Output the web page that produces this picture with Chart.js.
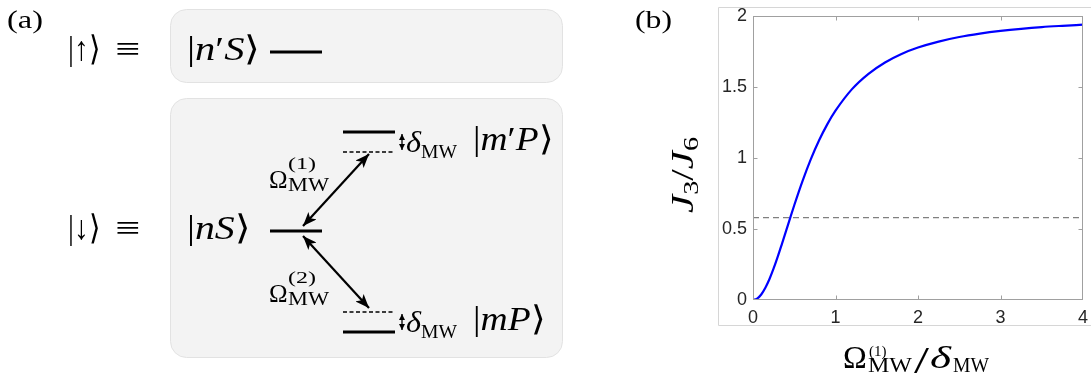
<!DOCTYPE html>
<html>
<head>
<meta charset="utf-8">
<script src="https://cdn.jsdelivr.net/npm/chart.js@4.4.1/dist/chart.umd.min.js"></script>
<style>
  html, body { margin:0; padding:0; background:#fff; width:1091px; height:377px; overflow:hidden; }
  #wrap { position:relative; width:1091px; height:377px; }
  #chartCanvas { position:absolute; left:700px; top:0; }
  #overlay { position:absolute; left:0; top:0; pointer-events:none; }
  .br { font-family:'DejaVu Sans','Liberation Serif',serif; font-weight:200; }
</style>
</head>
<body>
<div id="wrap">
<canvas id="chartCanvas" width="391" height="377"></canvas>
<svg id="overlay" width="1091" height="377" xmlns="http://www.w3.org/2000/svg"
     font-family="'Liberation Serif','DejaVu Serif',serif" fill="#000">
  <defs>
    <marker id="ah" viewBox="0 0 14 11" refX="14" refY="5.5" markerWidth="14" markerHeight="11"
            markerUnits="userSpaceOnUse" orient="auto-start-reverse">
      <path d="M0,0 L14,5.5 L0,11 L3.5,5.5 z" fill="#000"/>
    </marker>
    <marker id="sm" viewBox="0 0 6 6" refX="6" refY="3" markerWidth="6" markerHeight="6"
            markerUnits="userSpaceOnUse" orient="auto-start-reverse">
      <path d="M0,0 L6,3 L0,6 z" fill="#000"/>
    </marker>
  </defs>

  <!-- Panel (a) -->
  <text x="7" y="28" font-size="26" textLength="36" lengthAdjust="spacingAndGlyphs">(a)</text>

  <rect x="170.5" y="9.5" width="392" height="73" rx="16" ry="16" fill="#f3f3f3" stroke="#e2e2e2"/>
  <rect x="170.5" y="98.5" width="392" height="259" rx="16" ry="16" fill="#f3f3f3" stroke="#e2e2e2"/>

  <text x="68" y="60" font-size="34" textLength="32" lengthAdjust="spacingAndGlyphs">|↑<tspan class="br">⟩</tspan></text>
  <text x="115" y="60" font-size="34" textLength="25" lengthAdjust="spacingAndGlyphs">≡</text>
  <text x="187" y="60" font-size="34" textLength="73" lengthAdjust="spacingAndGlyphs">|<tspan font-style="italic">n</tspan>′<tspan font-style="italic">S</tspan><tspan class="br">⟩</tspan></text>
  <line x1="270" y1="52" x2="322" y2="52" stroke="#000" stroke-width="3"/>

  <text x="68" y="239" font-size="34" textLength="32" lengthAdjust="spacingAndGlyphs">|↓<tspan class="br">⟩</tspan></text>
  <text x="115" y="239" font-size="34" textLength="25" lengthAdjust="spacingAndGlyphs">≡</text>
  <text x="187" y="239" font-size="34" textLength="63" lengthAdjust="spacingAndGlyphs">|<tspan font-style="italic">n</tspan><tspan font-style="italic">S</tspan><tspan class="br">⟩</tspan></text>
  <line x1="270" y1="231" x2="322" y2="231" stroke="#000" stroke-width="3"/>

  <!-- upper levels -->
  <line x1="343" y1="132" x2="395" y2="132" stroke="#000" stroke-width="3"/>
  <line x1="343" y1="152" x2="395" y2="152" stroke="#000" stroke-width="1.5" stroke-dasharray="4 2.5"/>
  <line x1="402" y1="134" x2="402" y2="150" stroke="#000" stroke-width="1.3" marker-start="url(#sm)" marker-end="url(#sm)"/>
  <text x="406" y="152" font-size="30" font-style="italic" textLength="15" lengthAdjust="spacingAndGlyphs">δ</text>
  <text x="421" y="158" font-size="19" textLength="36" lengthAdjust="spacingAndGlyphs">MW</text>
  <text x="473" y="150" font-size="34" textLength="80" lengthAdjust="spacingAndGlyphs">|<tspan font-style="italic">m</tspan>′<tspan font-style="italic">P</tspan><tspan class="br">⟩</tspan></text>

  <!-- lower levels -->
  <line x1="343" y1="312" x2="395" y2="312" stroke="#000" stroke-width="1.5" stroke-dasharray="4 2.5"/>
  <line x1="343" y1="332" x2="395" y2="332" stroke="#000" stroke-width="3"/>
  <line x1="402" y1="314" x2="402" y2="330" stroke="#000" stroke-width="1.3" marker-start="url(#sm)" marker-end="url(#sm)"/>
  <text x="406" y="332" font-size="30" font-style="italic" textLength="15" lengthAdjust="spacingAndGlyphs">δ</text>
  <text x="421" y="338" font-size="19" textLength="36" lengthAdjust="spacingAndGlyphs">MW</text>
  <text x="473" y="330" font-size="34" textLength="72" lengthAdjust="spacingAndGlyphs">|<tspan font-style="italic">m</tspan><tspan font-style="italic">P</tspan><tspan class="br">⟩</tspan></text>

  <!-- arrows -->
  <line x1="303" y1="226" x2="369" y2="154" stroke="#000" stroke-width="2.2" marker-start="url(#ah)" marker-end="url(#ah)"/>
  <line x1="303" y1="236" x2="369" y2="308" stroke="#000" stroke-width="2.2" marker-start="url(#ah)" marker-end="url(#ah)"/>

  <!-- Omega labels -->
  <text x="269" y="188" font-size="25">Ω</text>
  <text x="288" y="169" font-size="17" textLength="28" lengthAdjust="spacingAndGlyphs">(1)</text>
  <text x="288" y="191" font-size="19" textLength="41" lengthAdjust="spacingAndGlyphs">MW</text>
  <text x="269" y="302" font-size="25">Ω</text>
  <text x="288" y="283" font-size="17" textLength="28" lengthAdjust="spacingAndGlyphs">(2)</text>
  <text x="288" y="305" font-size="19" textLength="41" lengthAdjust="spacingAndGlyphs">MW</text>

  <!-- Panel (b) decorations -->
  <text x="635" y="28" font-size="26" textLength="37" lengthAdjust="spacingAndGlyphs">(b)</text>
  <path d="M1100,7.5 H718.5 V325.5 H1100" fill="none" stroke="#d6d6d6" stroke-width="1"/>

  <text transform="translate(693,175) rotate(-90)" text-anchor="middle" font-size="32" textLength="76" lengthAdjust="spacingAndGlyphs"><tspan font-style="italic">J</tspan><tspan font-size="22" dy="5">3</tspan><tspan dy="-5">/</tspan><tspan font-style="italic">J</tspan><tspan font-size="22" dy="5">6</tspan></text>

  <text x="843" y="368" font-size="32">Ω</text>
  <text x="869" y="356" font-size="15">(1)</text>
  <text x="868" y="372" font-size="22" textLength="44" lengthAdjust="spacingAndGlyphs">MW</text>
  <text x="914" y="373" font-size="38" textLength="15" lengthAdjust="spacingAndGlyphs">/</text>
  <text x="930" y="368" font-size="32" font-style="italic" textLength="21" lengthAdjust="spacingAndGlyphs">δ</text>
  <text x="953" y="372" font-size="22" textLength="36" lengthAdjust="spacingAndGlyphs">MW</text>
</svg>
</div>

<script>
// ---- data ----
const ratioX = [0, 0.05, 0.1, 0.15, 0.2, 0.25, 0.3, 0.35, 0.4, 0.45, 0.5, 0.6, 0.7, 0.8, 0.9, 1.0,
                1.2, 1.4, 1.6, 1.8, 2.0, 2.25, 2.5, 2.75, 3.0, 3.25, 3.5, 3.75, 4.0];
const j3OverJ6 = [0, 0.01, 0.039, 0.086, 0.148, 0.222, 0.305, 0.394, 0.485, 0.577, 0.667, 0.837, 0.99, 1.123, 1.237, 1.333,
                  1.485, 1.593, 1.673, 1.733, 1.778, 1.82, 1.852, 1.876, 1.895, 1.91, 1.922, 1.931, 1.939];
const refLevel = 0.58;
const refX = [0, 4];
const xTickVals = [0, 1, 2, 3, 4];
const xTickLabels = ['0', '1', '2', '3', '4'];
const yTickVals = [0, 0.5, 1, 1.5, 2];
const yTickLabels = ['0', '0.5', '1', '1.5', '2'];

const axisColor = '#a0a0a0';

const boxPlugin = {
  id: 'boxPlugin',
  afterDraw(chart) {
    const {ctx, chartArea: a, scales} = chart;
    ctx.save();
    ctx.strokeStyle = axisColor;
    ctx.lineWidth = 1;
    const L = Math.round(a.left) + 0.5, R = Math.round(a.right) - 0.5;
    const T = Math.round(a.top) + 0.5, B = Math.round(a.bottom) - 0.5;
    ctx.strokeRect(L, T, R - L, B - T);
    const tl = 4;
    ctx.beginPath();
    xTickVals.forEach(v => {
      const px = Math.round(scales.x.getPixelForValue(v)) + 0.5;
      if (px <= L + 1 || px >= R - 1) return;
      ctx.moveTo(px, B); ctx.lineTo(px, B - tl);
      ctx.moveTo(px, T); ctx.lineTo(px, T + tl);
    });
    yTickVals.forEach(v => {
      const py = Math.round(scales.y.getPixelForValue(v)) + 0.5;
      if (py <= T + 1 || py >= B - 1) return;
      ctx.moveTo(L, py); ctx.lineTo(L + tl, py);
      ctx.moveTo(R, py); ctx.lineTo(R - tl, py);
    });
    ctx.stroke();
    ctx.restore();
  }
};

const tickFont = {family: "'Liberation Sans', Arial, sans-serif", size: 18};

new Chart(document.getElementById('chartCanvas').getContext('2d'), {
  type: 'line',
  data: {
    datasets: [
      {
        data: ratioX.map((x, i) => ({x: x, y: j3OverJ6[i]})),
        borderColor: '#0000ff',
        borderWidth: 2.2,
        pointRadius: 0,
        fill: false,
        cubicInterpolationMode: 'monotone'
      },
      {
        data: refX.map(x => ({x: x, y: refLevel})),
        borderColor: '#808080',
        borderWidth: 1.3,
        borderDash: [6, 4],
        pointRadius: 0,
        fill: false
      }
    ]
  },
  options: {
    responsive: false,
    animation: false,
    devicePixelRatio: 1,
    layout: {padding: {left: 0, right: 8, top: 16, bottom: 0}},
    plugins: {legend: {display: false}, tooltip: {enabled: false}, title: {display: false}},
    scales: {
      x: {
        type: 'linear', min: 0, max: 4,
        grid: {display: false, drawTicks: false},
        border: {display: false},
        afterBuildTicks: s => { s.ticks = xTickVals.map(v => ({value: v})); },
        afterFit: s => { s.height = 77; s.paddingLeft = 0; s.paddingRight = 0; },
        ticks: {font: tickFont, color: '#262626', padding: 7, maxRotation: 0, autoSkip: false,
                callback: (v, i) => xTickLabels[i]}
      },
      y: {
        type: 'linear', min: 0, max: 2,
        grid: {display: false, drawTicks: false},
        border: {display: false},
        afterBuildTicks: s => { s.ticks = yTickVals.map(v => ({value: v})); },
        afterFit: s => { s.width = 53; s.paddingTop = 0; s.paddingBottom = 0; },
        ticks: {font: tickFont, color: '#262626', padding: 6, autoSkip: false,
                callback: (v, i) => yTickLabels[i]}
      }
    }
  },
  plugins: [boxPlugin]
});
</script>
</body>
</html>
